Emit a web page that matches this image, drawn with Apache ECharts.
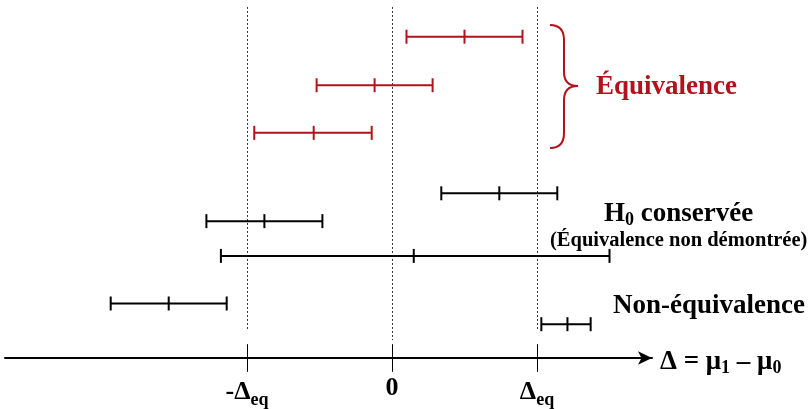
<!DOCTYPE html>
<html><head><meta charset="utf-8">
<script src="https://cdn.jsdelivr.net/npm/echarts@6/dist/echarts.min.js"></script>
<style>html,body{margin:0;padding:0;background:#fff}#c{width:810px;height:409px}</style>
</head><body><div id="c"></div>
<script>
// ---- data ----
const tickValues = [-1, 0, 1];
const tickLabels = ['-Δ{sub|eq}', '0', 'Δ{sub|eq}'];
// equivalence intervals (red): lower bound, estimate, upper bound, row
const equivLo  = [0.10, -0.52, -0.95];
const equivMid = [0.50, -0.12, -0.54];
const equivHi  = [0.90,  0.28, -0.14];
const equivRow = [1.5, 3.54, 5.54];
// other intervals (black)
const otherLo  = [0.34, -1.28, -1.18, -1.94, 1.03];
const otherMid = [0.74, -0.88,  0.15, -1.54, 1.21];
const otherHi  = [1.14, -0.48,  1.50, -1.14, 1.37];
const otherRow = [8.08, 9.25, 10.71, 12.71, 13.58];
// reference (dotted) lines
const refX = [-1, 0, 1];
const refTop = [0.25, 0.25, 0.25];
const refBottom = [13.83, 14.25, 13.83];
// axis tick marks span (row units)
const tickTop = 14.42, tickBottom = 15.58;

const RED = '#b3121c';
const FONT = '"Liberation Serif", "Times New Roman", serif';

const equivData = equivLo.map((v, i) => [v, equivMid[i], equivHi[i], equivRow[i]]);
const otherData = otherLo.map((v, i) => [v, otherMid[i], otherHi[i], otherRow[i]]);
const refData = refX.map((x, i) => [x, refTop[i], refBottom[i]]);
const tickData = tickValues.map(x => [x, tickTop, tickBottom]);

function intervalRender(color) {
  return function (params, api) {
    const y = api.value(3);
    const pL = api.coord([api.value(0), y]);
    const pM = api.coord([api.value(1), y]);
    const pH = api.coord([api.value(2), y]);
    const h = 7;
    const style = { stroke: color, lineWidth: 2, fill: null };
    const seg = (x1, y1, x2, y2) => ({ type: 'line', shape: { x1, y1, x2, y2 }, style });
    return {
      type: 'group', children: [
        seg(pL[0], pL[1], pH[0], pH[1]),
        seg(pL[0], pL[1] - h, pL[0], pL[1] + h),
        seg(pM[0], pM[1] - h, pM[0], pM[1] + h),
        seg(pH[0], pH[1] - h, pH[0], pH[1] + h)
      ]
    };
  };
}
function vlineRender(style) {
  return function (params, api) {
    const a = api.coord([api.value(0), api.value(1)]);
    const b = api.coord([api.value(0), api.value(2)]);
    return { type: 'line', shape: { x1: Math.round(a[0]) + 0.5, y1: a[1], x2: Math.round(b[0]) + 0.5, y2: b[1] }, style };
  };
}

const braceStyle = { stroke: RED, lineWidth: 2, fill: null };
const subRich = { sub: { fontFamily: FONT, fontWeight: 'bold', fontSize: 18, fill: '#000', verticalAlign: 'bottom', padding: [12, 0, 0, 0] } };

const chart = echarts.init(document.getElementById('c'), null, { renderer: 'canvas' });
chart.setOption({
  animation: false,
  backgroundColor: '#fff',
  grid: { left: 5, right: 158, top: 1, bottom: 48, containLabel: false },
  xAxis: {
    type: 'value',
    position: 'bottom',
    min: (5 - 392) / 145,
    max: (652 - 392) / 145,
    splitLine: { show: false },
    axisTick: { show: false },
    axisLine: { show: true, onZero: false, symbol: ['none', 'arrow'], symbolSize: [10, 14], lineStyle: { color: '#000', width: 2 } },
    axisLabel: {
      customValues: tickValues,
      margin: 17,
      color: '#000',
      fontFamily: FONT,
      fontWeight: 'bold',
      fontSize: 26,
      formatter: v => { const i = tickValues.findIndex(t => Math.abs(t - v) < 1e-9); return i >= 0 ? tickLabels[i] : ''; },
      rich: {
        sub: { fontFamily: FONT, fontWeight: 'bold', fontSize: 18, color: '#000', verticalAlign: 'bottom', padding: [16, 0, 0, 0] }
      }
    }
  },
  yAxis: { type: 'value', inverse: true, min: 0, max: 15, show: false },
  series: [
    { type: 'custom', clip: false, renderItem: vlineRender({ stroke: '#333', lineWidth: 1, lineDash: [2, 2] }), data: refData, silent: true },
    { type: 'custom', clip: false, renderItem: vlineRender({ stroke: '#000', lineWidth: 1 }), data: tickData, silent: true },
    { type: 'custom', clip: false, renderItem: intervalRender(RED), data: equivData, encode: { x: [0, 1, 2], y: 3 } },
    { type: 'custom', clip: false, renderItem: intervalRender('#000'), data: otherData, encode: { x: [0, 1, 2], y: 3 } }
  ],
  graphic: [
    { type: 'group', children: [
      { type: 'bezierCurve', shape: { x1: 550, y1: 25, cpx1: 564, cpy1: 25, x2: 564, y2: 40 }, style: braceStyle },
      { type: 'line', shape: { x1: 564, y1: 40, x2: 564, y2: 72 }, style: braceStyle },
      { type: 'bezierCurve', shape: { x1: 564, y1: 72, cpx1: 564, cpy1: 86, x2: 578, y2: 86 }, style: braceStyle },
      { type: 'bezierCurve', shape: { x1: 578, y1: 86, cpx1: 564, cpy1: 86, x2: 564, y2: 100 }, style: braceStyle },
      { type: 'line', shape: { x1: 564, y1: 100, x2: 564, y2: 133 }, style: braceStyle },
      { type: 'bezierCurve', shape: { x1: 564, y1: 133, cpx1: 564, cpy1: 148, x2: 550, y2: 148 }, style: braceStyle }
    ] },
    { type: 'text', x: 596, y: 87, style: { text: 'Équivalence', fontFamily: FONT, fontWeight: 'bold', fontSize: 27, fill: RED, align: 'left', verticalAlign: 'middle' } },
    { type: 'text', x: 604, y: 214, style: { text: 'H{sub|0} conservée', fontFamily: FONT, fontWeight: 'bold', fontSize: 27, fill: '#000', align: 'left', verticalAlign: 'middle', rich: subRich } },
    { type: 'text', x: 550, y: 241, style: { text: '(Équivalence non démontrée)', fontFamily: FONT, fontWeight: 'bold', fontSize: 20.5, fill: '#000', align: 'left', verticalAlign: 'middle' } },
    { type: 'text', x: 613, y: 306, style: { text: 'Non-équivalence', fontFamily: FONT, fontWeight: 'bold', fontSize: 27, fill: '#000', align: 'left', verticalAlign: 'middle' } },
    { type: 'text', x: 660, y: 362, style: { text: 'Δ = μ{sub|1} – μ{sub|0}', fontFamily: FONT, fontWeight: 'bold', fontSize: 27, fill: '#000', align: 'left', verticalAlign: 'middle', rich: subRich } }
  ]
});
</script></body></html>
